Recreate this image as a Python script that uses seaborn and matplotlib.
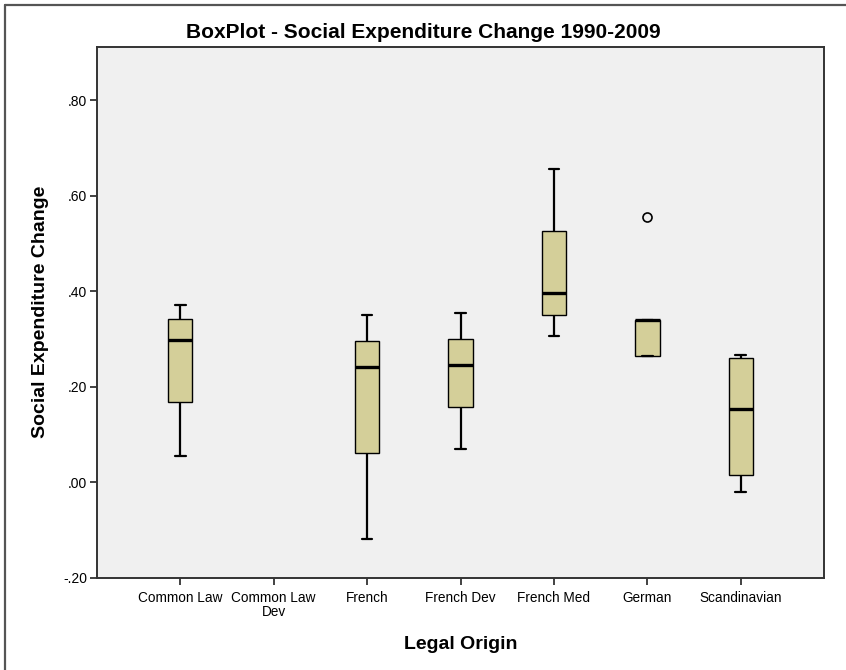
import numpy as np
import pandas as pd
import matplotlib
matplotlib.use("Agg")
import matplotlib.pyplot as plt
from matplotlib.lines import Line2D
import seaborn as sns

# values (min, Q1, median, Q3, max per legal origin)
origins = ["Common Law", "Common Law Dev", "French", "French Dev",
           "French Med", "German", "Scandinavian"]
tick_labels = ["Common Law", "Common Law\nDev", "French", "French Dev",
               "French Med", "German", "Scandinavian"]
minimum = [0.055, np.nan, -0.120, 0.070, 0.305, 0.264, -0.020]
lower_quartile = [0.167, np.nan, 0.060, 0.157, 0.350, 0.264, 0.015]
median = [0.297, np.nan, 0.240, 0.245, 0.395, 0.339, 0.153]
upper_quartile = [0.342, np.nan, 0.295, 0.300, 0.526, 0.339, 0.260]
maximum = [0.370, np.nan, 0.350, 0.354, 0.655, 0.554, 0.266]  # German max is the outlier

yticks = [-0.2, 0.0, 0.2, 0.4, 0.6, 0.8]
ytick_labels = ["-.20", ".00", ".20", ".40", ".60", ".80"]

rows = []
for name, lo, q1, md, q3, hi in zip(origins, minimum, lower_quartile,
                                    median, upper_quartile, maximum):
    if np.isnan(md):
        continue
    for v in (lo, q1, md, q3, hi):
        rows.append({"origin": name, "change": v})
df = pd.DataFrame(rows)

sns.set_style("ticks")
plt.rcParams["font.family"] = ["Liberation Sans", "DejaVu Sans"]
plt.rcParams["text.color"] = "black"
plt.rcParams["axes.labelcolor"] = "black"
plt.rcParams["xtick.color"] = "black"
plt.rcParams["ytick.color"] = "black"

fig = plt.figure(figsize=(8.46, 6.70), dpi=100)
ax = fig.add_axes([97 / 846, 1 - 577.5 / 670, 727 / 846, 530.5 / 670])
ax.set_facecolor("#f0f0f0")

sns.boxplot(data=df, x="origin", y="change", order=origins, ax=ax,
            color="#d4cf99", saturation=1, width=0.26, linecolor="black",
            linewidth=1.0, capwidths=0.115,
            whiskerprops={"linewidth": 1.6},
            capprops={"linewidth": 1.6},
            medianprops={"linewidth": 2.4, "color": "black"},
            flierprops={"marker": "o", "markersize": 6.5,
                        "markerfacecolor": "none", "markeredgecolor": "black",
                        "markeredgewidth": 1.2})

ax.set_xlim(-0.89, 6.89)
ax.set_ylim(-0.2, 0.911)
ax.set_yticks(yticks)
ax.set_yticklabels(ytick_labels, fontsize=10)
ax.set_xticks(range(len(origins)))
ax.set_xticklabels(tick_labels, fontsize=9.8, linespacing=0.95)
ax.tick_params(axis="both", direction="out", length=5, width=1.3,
               color="#333333")
ax.tick_params(axis="x", pad=5)
ax.tick_params(axis="y", pad=2)

for side in ["left", "right", "top", "bottom"]:
    ax.spines[side].set_visible(True)
    ax.spines[side].set_color("#333333")
    ax.spines[side].set_linewidth(1.4)

ax.set_xlabel("Legal Origin", fontsize=14, fontweight="bold", labelpad=12)
ax.set_ylabel("Social Expenditure Change", fontsize=14, fontweight="bold",
              labelpad=10)
fig.text(0.5, 1 - 33 / 670, "BoxPlot - Social Expenditure Change 1990-2009",
         ha="center", va="center", fontsize=15, fontweight="bold")

# outer frame (left and top edges visible in the source image)
fig.add_artist(Line2D([5 / 846, 5 / 846], [0, 1 - 5 / 670], color="#555555",
                      linewidth=1.6, transform=fig.transFigure))
fig.add_artist(Line2D([5 / 846, 1], [1 - 5 / 670, 1 - 5 / 670], color="#555555",
                      linewidth=1.6, transform=fig.transFigure))

fig.savefig("out.png", dpi=100, facecolor="white")
